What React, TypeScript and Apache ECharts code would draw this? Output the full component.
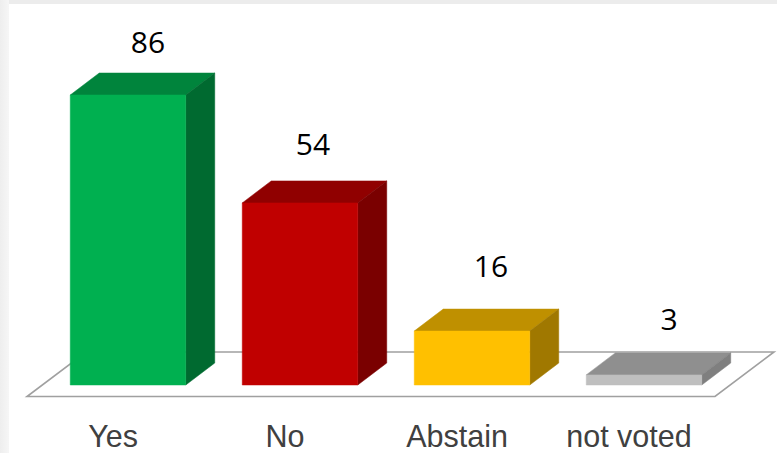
import React, { useEffect, useRef } from "react";
import * as echarts from "echarts";

const categories = ["Yes", "No", "Abstain", "not voted"];
const votes = [86, 54, 16, 3];

const frontColors = ["#00B050", "#C00000", "#FFC000", "#BFBFBF"];
const topColors = ["#00843C", "#900000", "#BF9000", "#8F8F8F"];
const sideColors = ["#006A30", "#7A0000", "#A07800", "#7F7F7F"];
const labelOffsetX = [20, 13, 19, 25];
const labelOffsetY = [-54, -59, -66, -56];

const DEPTH_X = 29;
const DEPTH_Y = 22;
const FRONT_SHIFT = 15;
const FONT = "'Open Sans', sans-serif";

export default function App() {
  const ref = useRef<HTMLDivElement>(null);
  useEffect(() => {
    const chart = echarts.init(ref.current!, undefined, { renderer: "svg" });
    chart.setOption({
      animation: false,
      backgroundColor: "#ffffff",
      grid: { left: 27, top: 47.8, width: 688, height: 337.2 },
      xAxis: {
        type: "category",
        data: categories,
        axisLine: { show: false },
        axisTick: { show: false },
        axisLabel: { fontFamily: "'Liberation Sans', sans-serif", fontSize: 30.5, color: "#404040", margin: 35 },
      },
      yAxis: { type: "value", min: 0, max: 100, show: false, splitLine: { show: false } },
      graphic: {
        elements: [
          {
            type: "rect",
            z: -10,
            silent: true,
            shape: { x: 0, y: 0, width: 777, height: 4 },
            style: { fill: "#ececec" },
          },
          {
            type: "rect",
            z: -10,
            silent: true,
            shape: { x: 0, y: 0, width: 9, height: 453 },
            style: {
              fill: new echarts.graphic.LinearGradient(0, 0, 1, 0, [
                { offset: 0, color: "#eeeeee" },
                { offset: 1, color: "#f6f6f6" },
              ]),
            },
          },
        ],
      },
      series: [
        {
          type: "custom",
          z: 1,
          silent: true,
          data: [0],
          encode: { x: -1, y: -1 },
          renderItem: (params: any) => {
            const g = params.coordSys;
            const bottom = g.y + g.height;
            return {
              type: "polygon",
              shape: {
                points: [
                  [g.x, bottom + 11.5],
                  [g.x + g.width, bottom + 11.5],
                  [g.x + g.width + 59, bottom - 33],
                  [g.x + 59, bottom - 33],
                ],
              },
              style: { fill: "#ffffff", stroke: "#A0A0A0", lineWidth: 1.6 },
            };
          },
        },
        {
          type: "custom",
          z: 2,
          data: votes.map((v, i) => [categories[i], v]),
          encode: { x: 0, y: 1 },
          renderItem: (params: any, api: any) => {
            const i = params.dataIndex;
            const [cx, yTop] = api.coord([api.value(0), api.value(1)]);
            const [, yBase] = api.coord([api.value(0), 0]);
            const w = api.size([1, 0])[0] * 0.6715;
            const l = cx + FRONT_SHIFT - w / 2;
            const r = l + w;
            const poly = (points: number[][], fill: string) => ({
              type: "polygon",
              shape: { points },
              style: { fill, stroke: fill, lineWidth: 0.5 },
            });
            return {
              type: "group",
              children: [
                poly(
                  [[l, yTop], [r, yTop], [r + DEPTH_X, yTop - DEPTH_Y], [l + DEPTH_X, yTop - DEPTH_Y]],
                  topColors[i],
                ),
                poly(
                  [[r, yTop], [r + DEPTH_X, yTop - DEPTH_Y], [r + DEPTH_X, yBase - DEPTH_Y], [r, yBase]],
                  sideColors[i],
                ),
                poly([[l, yTop], [r, yTop], [r, yBase], [l, yBase]], frontColors[i]),
                {
                  type: "text",
                  style: {
                    x: cx + FRONT_SHIFT + labelOffsetX[i],
                    y: yTop + labelOffsetY[i],
                    text: String(votes[i]),
                    fill: "#000000",
                    font: `30px ${FONT}`,
                    align: "center",
                    verticalAlign: "middle",
                  },
                },
              ],
            };
          },
        },
      ],
    });
    return () => chart.dispose();
  }, []);
  return <div ref={ref} style={{ position: "fixed", left: 0, top: 0, width: 777, height: 453 }} />;
}
